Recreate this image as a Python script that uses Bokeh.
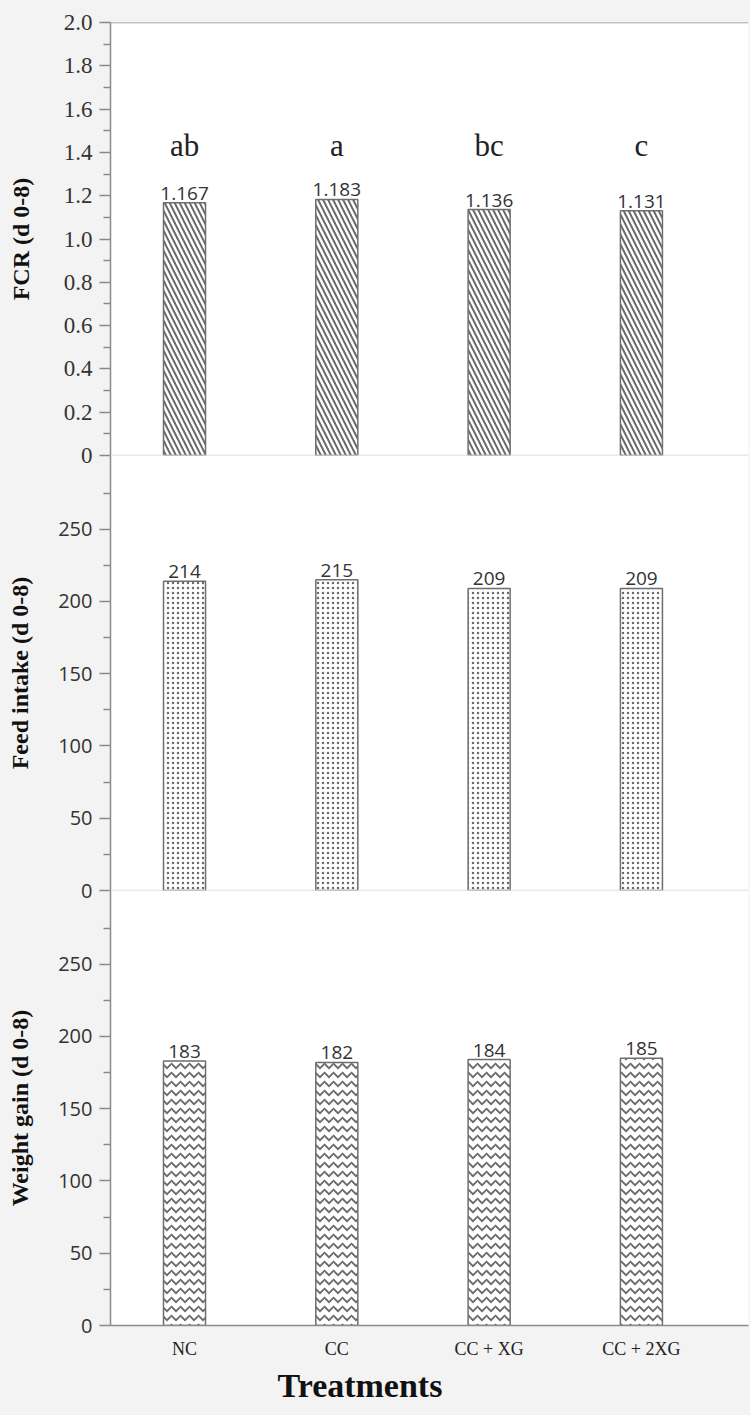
from bokeh.plotting import figure
from bokeh.layouts import column
from bokeh.models import Range1d, FixedTicker, Span, Title, ColumnDataSource, CustomJSTickFormatter
from bokeh.core.properties import value
from bokeh.embed import file_html
from bokeh.resources import INLINE

# ---------------- data ----------------
categories = ["NC", "CC", "CC + XG", "CC + 2XG"]
fcr = [1.167, 1.183, 1.136, 1.131]
fcr_letters = ["ab", "a", "bc", "c"]
feed_intake = [214, 215, 209, 209]
weight_gain = [183, 182, 184, 185]

fcr_ticks = [0, 0.2, 0.4, 0.6, 0.8, 1.0, 1.2, 1.4, 1.6, 1.8, 2.0]
fcr_minor = [0.1, 0.3, 0.5, 0.7, 0.9, 1.1, 1.3, 1.5, 1.7, 1.9]
g_ticks = [0, 50, 100, 150, 200, 250]
g_minor = [25, 75, 125, 175, 225, 275]

# ---------------- style ----------------
SERIF = "Liberation Serif"
SANS = "Open Sans"
BG = "#f3f3f3"
AXIS = "#8a8a8a"
BAR_LINE = "#6e6e6e"
LETTER_Y = 1.43
W = 750
LEFT = 110
OV = 16  # overlap so boundary tick labels are not cut

xr = Range1d(-0.486, 3.703)
xs = list(range(len(categories)))


def panel(height, yr, ticks, minor, ylabel, tick_font, tick_size, label_standoff,
          top=0, bottom=0, z=1, margin=0):
    p = figure(width=W, height=height, x_range=xr, y_range=yr,
               output_backend="svg", toolbar_location=None,
               min_border_left=LEFT, min_border_right=2,
               min_border_top=top, min_border_bottom=bottom,
               margin=(margin, 0, 0, 0),
               styles={"position": "relative", "z-index": str(z)})
    p.border_fill_color = BG
    p.border_fill_alpha = 0
    p.background_fill_color = "white"
    p.outline_line_color = None
    p.grid.visible = False
    ax = p.yaxis[0]
    ax.ticker = FixedTicker(ticks=ticks, minor_ticks=minor)
    ax.axis_line_color = AXIS
    ax.axis_line_width = 1.5
    ax.major_tick_line_color = AXIS
    ax.minor_tick_line_color = AXIS
    ax.major_tick_line_width = 1.5
    ax.minor_tick_line_width = 1.5
    ax.major_tick_out = 11
    ax.major_tick_in = 0
    ax.minor_tick_out = 7
    ax.minor_tick_in = 0
    ax.major_label_standoff = 7
    ax.major_label_text_font = tick_font
    ax.major_label_text_font_size = tick_size
    ax.major_label_text_color = "#333333"
    ax.axis_label = ylabel
    ax.axis_label_text_font = SERIF
    ax.axis_label_text_font_style = "bold"
    ax.axis_label_text_font_size = "24px"
    ax.axis_label_text_color = "#111111"
    ax.axis_label_standoff = label_standoff
    return p


def bars(p, vals, pattern, scale, weight, labels):
    src = ColumnDataSource(dict(x=xs, top=vals, lab=labels))
    p.vbar(x="x", top="top", width=0.276, source=src, fill_color="white",
           line_color=BAR_LINE, line_width=1.5, hatch_pattern=pattern,
           hatch_color="#6a6a6a", hatch_scale=scale, hatch_weight=weight)
    p.text(x="x", y="top", text="lab", source=src, text_align="center",
           text_baseline="bottom", y_offset=-3, text_font=value(SANS),
           text_font_size="19px", text_color="#333333")


# Panel 1: FCR
p1 = panel(22 + 433 + OV, Range1d(0, 2.0), fcr_ticks, fcr_minor, "FCR (d 0-8)", SERIF, "23px", 27,
           top=22, bottom=OV, z=3)
p1.yaxis[0].formatter = CustomJSTickFormatter(code="return tick == 0 ? '0' : tick.toFixed(1);")
p1.xaxis.visible = False
bars(p1, fcr, "\\", 10, 2, [f"{v:.3f}" for v in fcr])
p1.text(x=xs, y=[LETTER_Y] * len(xs), text=fcr_letters, text_align="center",
        text_baseline="middle", text_font=value(SERIF), text_font_size="31px",
        text_color="#222222")
p1.add_layout(Span(location=2.0, dimension="width", line_color=AXIS, line_width=1.5))
p1.add_layout(Span(location=0, dimension="width", line_color="#d4d4d4", line_width=1.5))

# Panel 2: Feed intake
p2 = panel(435 + OV, Range1d(0, 301), g_ticks, g_minor, "Feed intake (d 0-8)", SANS, "20px", 22,
           bottom=OV, z=2, margin=-OV)
p2.xaxis.visible = False
bars(p2, feed_intake, ".", 5, 3, [str(v) for v in feed_intake])
p2.add_layout(Span(location=0, dimension="width", line_color="#d4d4d4", line_width=1.5))

# Panel 3: Weight gain
p3 = panel(435 + 90, Range1d(0, 301), g_ticks, g_minor, "Weight gain (d 0-8)", SANS, "20px", 22,
           bottom=90, z=1, margin=-OV)
bars(p3, weight_gain, "v", 9, 1.8, [str(v) for v in weight_gain])
xa = p3.xaxis[0]
xa.ticker = FixedTicker(ticks=xs)
xa.major_label_overrides = {i: c for i, c in enumerate(categories)}
xa.axis_line_color = AXIS
xa.axis_line_width = 1.5
xa.major_tick_out = 0
xa.major_tick_in = 0
xa.minor_tick_out = 0
xa.minor_tick_in = 0
xa.major_label_standoff = 13
xa.major_label_text_font = SERIF
xa.major_label_text_font_size = "18px"
xa.major_label_text_color = "#222222"
p3.add_layout(Title(text="Treatments", align="left", offset=167, standoff=6,
                    text_font=SERIF, text_font_style="bold", text_font_size="34px",
                    text_color="#111111"), "below")

layout = column(p1, p2, p3, spacing=0, styles={"background-color": BG})
open("out.html", "w").write(file_html(layout, INLINE))
